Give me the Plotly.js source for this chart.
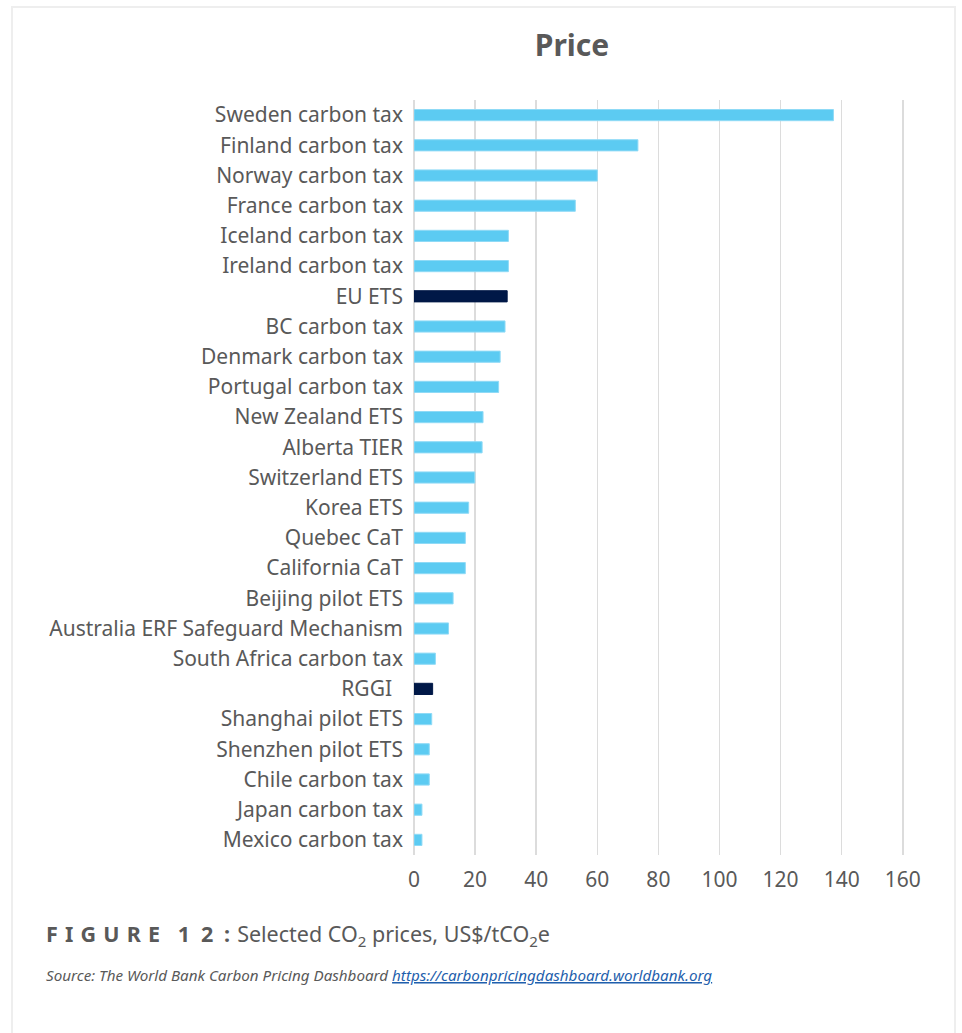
<!DOCTYPE html>
<html>
<head>
<meta charset="utf-8">
<script src="https://cdn.plot.ly/plotly-3.0.1.min.js"></script>
<style>
  html, body { margin: 0; padding: 0; background: #ffffff; }
  #frame { position: absolute; left: 11px; top: 6px; width: 945px; height: 1040px; border: 2px solid #eeeeee; box-sizing: border-box; }
  #chart { position: absolute; left: 0; top: 0; width: 962px; height: 1033px; }
</style>
</head>
<body>
<div id="frame"></div>
<div id="chart"></div>
<script>
const categories = [
  "Sweden carbon tax", "Finland carbon tax", "Norway carbon tax", "France carbon tax",
  "Iceland carbon tax", "Ireland carbon tax", "EU ETS", "BC carbon tax",
  "Denmark carbon tax", "Portugal carbon tax", "New Zealand ETS", "Alberta TIER",
  "Switzerland ETS", "Korea ETS", "Quebec CaT", "California CaT",
  "Beijing pilot ETS", "Australia ERF Safeguard Mechanism", "South Africa carbon tax", "RGGI\u00a0\u00a0",
  "Shanghai pilot ETS", "Shenzhen pilot ETS", "Chile carbon tax", "Japan carbon tax", "Mexico carbon tax"
];
const prices = [
  137.3, 73.3, 60, 52.8,
  30.9, 30.9, 30.5, 29.8,
  28.2, 27.7, 22.6, 22.3,
  19.9, 17.9, 16.8, 16.8,
  12.8, 11.3, 7.0, 6.1,
  5.8, 5.0, 5.0, 2.6, 2.6
];
const highlighted = ["EU ETS", "RGGI\u00a0\u00a0"];
const xTicks = [0, 20, 40, 60, 80, 100, 120, 140, 160];

const lightBlue = "#5ccbf2";
const lightEdge = "#8fdaf6";
const navy = "#001847";

const fills = categories.map(c => highlighted.includes(c) ? navy : lightBlue);
const edges = categories.map(c => highlighted.includes(c) ? navy : lightEdge);

const textGray = "#595959";
const font = "'Noto Sans', 'Open Sans', sans-serif";

const data = [{
  type: "bar",
  orientation: "h",
  x: prices,
  y: categories,
  marker: { color: fills, line: { color: edges, width: 1 } },
  hoverinfo: "skip"
}];

const sp = "\u2004";
const sp2 = "\u2002";
const layout = {
  width: 962,
  height: 1033,
  margin: { l: 414, r: 58, t: 100, b: 178 },
  paper_bgcolor: "rgba(0,0,0,0)",
  plot_bgcolor: "rgba(0,0,0,0)",
  bargap: 0.63,
  showlegend: false,
  title: {
    text: "<b>Price</b>",
    font: { family: font, size: 30, color: textGray },
    x: 572 / 962, xref: "container", xanchor: "center",
    y: 1 - 45 / 1033, yref: "container", yanchor: "middle"
  },
  xaxis: {
    range: [0, 160.4],
    tickvals: xTicks,
    ticktext: xTicks.map(String),
    showgrid: true,
    gridcolor: "#dcdcdc",
    gridwidth: 1.5,
    zeroline: true,
    zerolinecolor: "#dcdcdc",
    zerolinewidth: 1.5,
    showline: false,
    ticks: "",
    ticklabelstandoff: 10,
    tickfont: { family: font, size: 21, color: textGray },
    fixedrange: true
  },
  yaxis: {
    autorange: "reversed",
    type: "category",
    showgrid: false,
    zeroline: false,
    showline: false,
    ticks: "",
    ticklabelstandoff: 10,
    tickfont: { family: font, size: 21, color: textGray },
    fixedrange: true
  },
  annotations: [
    {
      xref: "paper", yref: "paper",
      x: (44 - 414) / 490, y: (855 - 935) / 755,
      xanchor: "left", yanchor: "middle",
      showarrow: false,
      align: "left",
      text: "<b>F" + sp + "I" + sp + "G" + sp + "U" + sp + "R" + sp + "E" + sp2 + sp + "1" + sp2 + "2" + sp2 + ":</b>" + sp + "Selected CO<sub>2</sub> prices, US$/tCO<sub>2</sub>e",
      font: { family: font, size: 21.5, color: textGray }
    },
    {
      xref: "paper", yref: "paper",
      x: (44 - 414) / 490, y: (855 - 975) / 755,
      xanchor: "left", yanchor: "middle",
      showarrow: false,
      align: "left",
      text: "<i>Source: The World Bank Carbon Pricing Dashboard </i><a href='https://carbonpricingdashboard.worldbank.org' style='color:#1f5fad'><i><u>https://carbonpricingdashboard.worldbank.org</u></i></a>",
      font: { family: font, size: 15.2, color: textGray }
    }
  ]
};

Plotly.newPlot("chart", data, layout, { displayModeBar: false, staticPlot: true });
</script>
</body>
</html>
